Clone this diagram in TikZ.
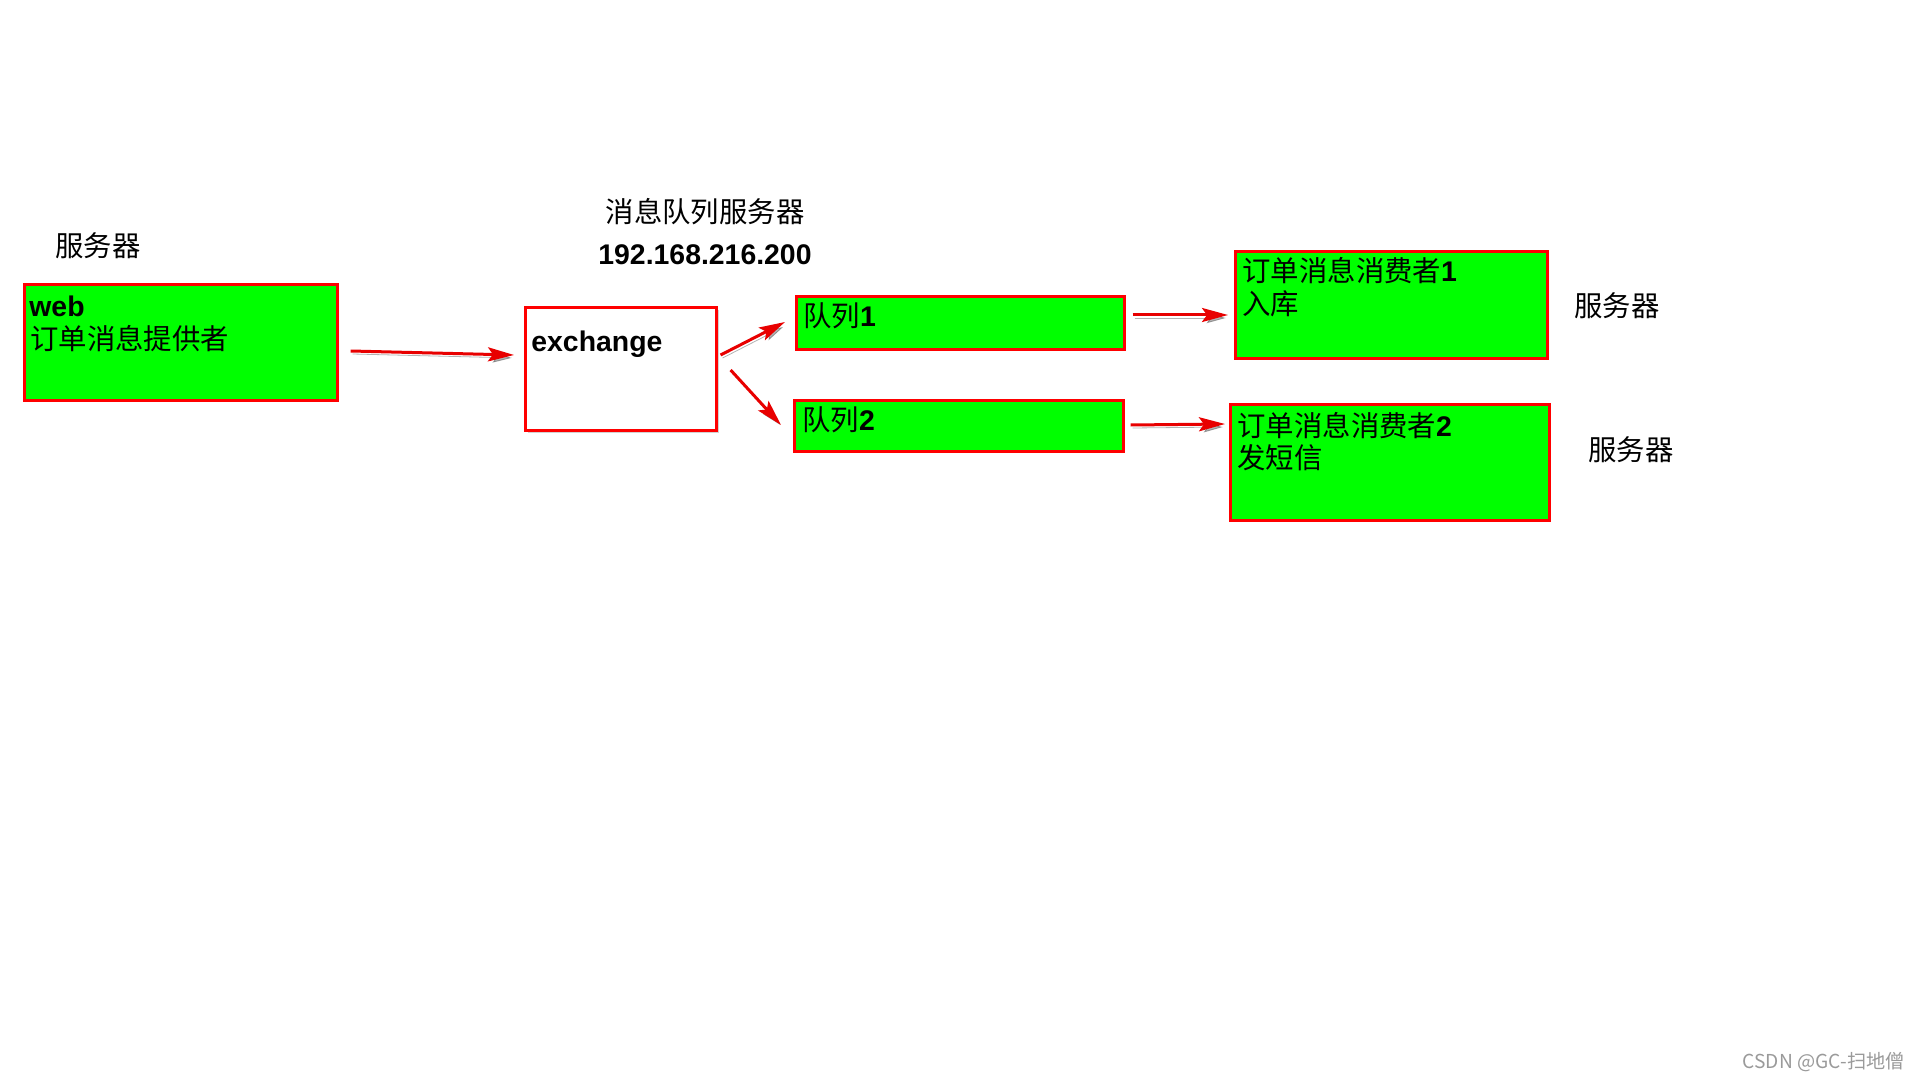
\documentclass[tikz,border=0pt]{standalone}
\usepackage{fontspec}
\setmainfont{Liberation Sans}
\newfontfamily\cjk{Noto Sans CJK SC}
\usetikzlibrary{arrows.meta,calc,shadows}
\definecolor{boxgreen}{HTML}{00FF00}
\definecolor{boxred}{HTML}{FF0000}
\definecolor{arrred}{HTML}{E80000}
\definecolor{wmgray}{HTML}{9A9A9A}
\begin{document}
\begin{tikzpicture}[x=0.5pt,y=-0.5pt,
  gbox/.style={draw=boxred, fill=boxgreen, line width=1.5pt, rectangle, anchor=north west, inner sep=0pt},
  wbox/.style={draw=boxred, fill=white, line width=1.5pt, rectangle, anchor=north west, inner sep=0pt,
    drop shadow={shadow xshift=1.2pt, shadow yshift=-1.2pt, opacity=0.35}},
  lbl/.style={anchor=base west, inner sep=0pt, font=\fontsize{14.2pt}{17pt}\selectfont},
  clbl/.style={anchor=center, inner sep=0pt, font=\fontsize{14.2pt}{17pt}\selectfont},
  arr/.style={draw=arrred, line width=1.5pt, -{Stealth[length=13pt,width=7pt,inset=2.5pt]},
    preaction={draw=black, opacity=0.3, transform canvas={xshift=1pt,yshift=-1.5pt}}}]
\useasboundingbox[fill=white] (0,0) rectangle (1920,1080);

% boxes
\node[gbox, minimum width=156.3pt, minimum height=58.2pt] (web) at (23,283) {};
\node[wbox, minimum width=95.3pt, minimum height=61.7pt] (exch) at (524,306) {};
\node[gbox, minimum width=163.8pt, minimum height=26.7pt] (q1) at (795,295) {};
\node[gbox, minimum width=164.3pt, minimum height=25.7pt] (q2) at (793,399) {};
\node[gbox, minimum width=155.8pt, minimum height=53.7pt] (c1) at (1234,250) {};
\node[gbox, minimum width=159.3pt, minimum height=58.2pt] (c2) at (1229,403) {};

% box texts
\node[lbl] (webt1) at ($(web.north west)+(6,34)$) {\textbf{web}};
\node[lbl] (webt2) at ($(web.north west)+(7,67)$) {\cjk 订单消息提供者};
\node[lbl] (excht) at ($(exch.north west)+(7,45)$) {\textbf{exchange}};
\node[lbl] (q1t) at ($(q1.north west)+(8,32)$) {{\cjk 队列}\textbf{1}};
\node[lbl] (q2t) at ($(q2.north west)+(9,31)$) {{\cjk 队列}\textbf{2}};
\node[lbl] (c1t1) at ($(c1.north west)+(8,32)$) {{\cjk 订单消息消费者}\textbf{1}};
\node[lbl] (c1t2) at ($(c1.north west)+(8,65)$) {\cjk 入库};
\node[lbl] (c2t1) at ($(c2.north west)+(8,33)$) {{\cjk 订单消息消费者}\textbf{2}};
\node[lbl] (c2t2) at ($(c2.north west)+(8,65)$) {\cjk 发短信};

% free labels
\node[clbl] (srv1) at (98,246) {\cjk 服务器};
\node[clbl] (mqsrv) at (705,212) {\cjk 消息队列服务器};
\node[clbl] (ip) at (705,255) {\textbf{192.168.216.200}};
\node[clbl] (srv2) at (1617,306) {\cjk 服务器};
\node[clbl] (srv3) at (1631,450) {\cjk 服务器};

% connectors
\draw[arr] ($(web.north east)+(12,68)$) -- ($(exch.north west)+(-10,49)$);
\draw[arr] ($(exch.north east)+(3,49)$) -- ($(q1.north west)+(-10,27)$);
\draw[arr] ($(exch.north east)+(13,64)$) -- ($(q2.north west)+(-12,26)$);
\draw[arr] ($(q1.north east)+(7,20)$) -- ($(c1.north west)+(-6,65)$);
\draw[arr] ($(q2.north east)+(6,26)$) -- ($(c2.north west)+(-4,21)$);

% watermark
\node[anchor=east, inner sep=0pt, text=wmgray, font=\cjk\fontsize{9.6pt}{11pt}\selectfont] (wm) at (1905,1062) {CSDN @GC-扫地僧};
\end{tikzpicture}
\end{document}
